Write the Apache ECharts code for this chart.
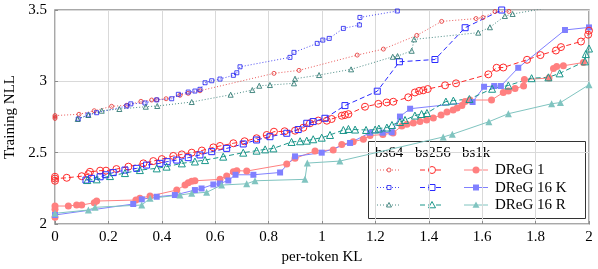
<!DOCTYPE html>
<html><head><meta charset="utf-8">
<script src="https://cdn.jsdelivr.net/npm/echarts@6/dist/echarts.min.js"></script>
<style>html,body{margin:0;padding:0;background:#fff}#c{width:598px;height:269px}</style>
</head><body><div id="c"></div>
<script>
// ---- categories ----
const methods = ['DReG 1', 'DReG 16 K', 'DReG 16 R'];
const batches = ['bs64', 'bs256', 'bs1k'];
const xAxisName = 'per-token KL';
const yAxisName = 'Training NLL';

// ---- series values [per-token KL, training NLL] ----
const dreg1_bs64 = [[0,2.74],[0,2.75],[0,2.76],[0.09,2.769],[0.147,2.794],[0.212,2.825],[0.269,2.832],[0.322,2.86],[0.362,2.869],[0.381,2.871],[0.416,2.878],[0.468,2.902],[0.499,2.916],[0.543,2.934],[0.82,3.056],[0.914,3.077],[1.132,3.184],[1.23,3.226],[1.355,3.322],[1.448,3.42],[1.577,3.44],[1.603,3.447],[1.648,3.489],[1.70,3.49]];
const dreg16k_bs64 = [[0.087,2.736],[0.124,2.764],[0.156,2.78],[0.269,2.827],[0.284,2.842],[0.337,2.848],[0.381,2.87],[0.437,2.878],[0.462,2.909],[0.499,2.925],[0.524,2.932],[0.543,2.944],[0.562,2.99],[0.587,3.004],[0.618,3.016],[0.668,3.042],[0.681,3.06],[0.693,3.102],[0.88,3.168],[0.895,3.203],[0.982,3.266],[1.003,3.289],[1.027,3.301],[1.08,3.371],[1.14,3.395],[1.142,3.448],[1.282,3.493]];
const dreg16r_bs64 = [[0.085,2.736],[0.125,2.764],[0.175,2.794],[0.241,2.806],[0.34,2.822],[0.383,2.827],[0.512,2.855],[0.658,2.906],[0.739,2.939],[0.765,2.969],[0.805,2.974],[0.895,2.986],[0.899,3.018],[0.989,3.044],[1.109,3.084],[1.265,3.172],[1.283,3.177],[1.336,3.214],[1.345,3.294],[1.585,3.341],[1.629,3.379],[1.685,3.458],[1.714,3.472],[1.86,3.52]];

const dreg1_bs256 = [[0,2.303],[0,2.318],[0,2.331],[0.044,2.324],[0.10,2.335],[0.125,2.35],[0.131,2.366],[0.169,2.374],[0.191,2.374],[0.23,2.385],[0.275,2.402],[0.331,2.425],[0.368,2.441],[0.40,2.455],[0.443,2.477],[0.475,2.488],[0.512,2.50],[0.55,2.515],[0.593,2.537],[0.618,2.547],[0.668,2.566],[0.71,2.58],[0.755,2.601],[0.793,2.624],[0.82,2.647],[0.86,2.65],[0.899,2.654],[0.93,2.675],[0.955,2.706],[0.986,2.725],[1.018,2.724],[1.036,2.736],[1.074,2.759],[1.086,2.764],[1.099,2.770],[1.161,2.822],[1.211,2.842],[1.242,2.852],[1.267,2.857],[1.323,2.888],[1.348,2.922],[1.364,2.933],[1.379,2.937],[1.396,2.946],[1.461,2.972],[1.502,2.986],[1.623,3.049],[1.654,3.095],[1.679,3.097],[1.768,3.151],[1.818,3.184],[1.876,3.216],[1.895,3.24],[1.97,3.279],[1.997,3.327],[2.0,3.355]];
const dreg16k_bs256 = [[0.116,2.308],[0.137,2.32],[0.169,2.331],[0.19,2.345],[0.218,2.36],[0.262,2.378],[0.306,2.39],[0.343,2.413],[0.393,2.425],[0.42,2.437],[0.456,2.448],[0.499,2.465],[0.543,2.484],[0.587,2.507],[0.643,2.53],[0.705,2.561],[0.755,2.589],[0.805,2.612],[0.868,2.636],[0.911,2.662],[0.943,2.706],[0.967,2.718],[1.011,2.741],[1.086,2.83],[1.207,2.931],[1.29,3.137],[1.423,3.153],[1.536,3.376],[1.673,3.50]];
const dreg16r_bs256 = [[0.121,2.308],[0.156,2.313],[0.206,2.336],[0.262,2.357],[0.318,2.378],[0.381,2.39],[0.418,2.402],[0.475,2.425],[0.524,2.438],[0.562,2.448],[0.63,2.472],[0.705,2.50],[0.755,2.514],[0.787,2.523],[0.818,2.53],[0.886,2.575],[0.918,2.58],[0.943,2.584],[0.967,2.594],[0.999,2.605],[1.03,2.624],[1.08,2.659],[1.099,2.666],[1.124,2.662],[1.165,2.659],[1.199,2.662],[1.213,2.669],[1.243,2.676],[1.262,2.694],[1.292,2.715],[1.311,2.729],[1.348,2.76],[1.373,2.771],[1.393,2.778],[1.464,2.858],[1.492,2.865],[1.552,2.876],[1.637,2.948],[1.698,2.971],[1.785,3.022],[1.848,3.028],[1.89,3.056],[1.985,3.14],[1.988,3.191],[2.0,3.23]];

const dreg1_bs1k = [[0,2.047],[0,2.103],[0,2.126],[0.05,2.126],[0.081,2.133],[0.1,2.133],[0.147,2.149],[0.156,2.161],[0.303,2.168],[0.318,2.18],[0.356,2.196],[0.456,2.238],[0.487,2.273],[0.499,2.289],[0.512,2.299],[0.524,2.303],[0.618,2.313],[0.643,2.336],[0.668,2.367],[0.681,2.374],[0.718,2.371],[0.868,2.42],[0.899,2.46],[0.974,2.512],[1.042,2.519],[1.074,2.557],[1.117,2.577],[1.155,2.594],[1.18,2.62],[1.228,2.627],[1.266,2.638],[1.299,2.687],[1.318,2.699],[1.342,2.708],[1.367,2.718],[1.392,2.729],[1.417,2.743],[1.446,2.764],[1.468,2.785],[1.491,2.799],[1.506,2.813],[1.524,2.83],[1.536,2.858],[1.554,2.869],[1.635,2.869],[1.679,2.922],[1.698,2.932],[1.723,2.95],[1.755,2.967],[1.758,3.013],[1.85,3.023],[1.867,3.09],[1.879,3.104],[1.904,3.109],[1.979,3.132]];
const dreg16k_bs1k = [[0,2.063],[0.293,2.14],[0.325,2.173],[0.381,2.191],[0.449,2.203],[0.524,2.238],[0.549,2.249],[0.593,2.277],[0.618,2.284],[0.649,2.305],[0.676,2.345],[0.743,2.345],[0.843,2.361],[0.899,2.474],[0.999,2.50],[1.105,2.568],[1.18,2.64],[1.227,2.64],[1.261,2.643],[1.292,2.753],[1.33,2.808],[1.564,2.855],[1.607,2.962],[1.645,2.967],[1.67,2.967],[1.735,3.095],[1.91,3.36],[2.0,3.378]];
const dreg16r_bs1k = [[0,2.075],[0.125,2.098],[0.15,2.117],[0.325,2.133],[0.356,2.18],[0.468,2.203],[0.512,2.215],[0.568,2.222],[0.624,2.273],[0.718,2.282],[0.749,2.303],[0.936,2.313],[0.945,2.427],[1.067,2.441],[1.454,2.61],[1.488,2.629],[1.625,2.717],[1.698,2.773],[1.86,2.843],[1.893,2.851],[2.0,2.976]];

// ---- axis ticks ----
const xMin = 0, xMax = 2, xStep = 0.2;
const yMin = 2, yMax = 3.5, yStep = 0.5;

// ---- styles (not data) ----
const methodColors = {
  bs64:  ['#e53030', '#1e1ef0', '#1e6e66'],
  bs256: ['#ff2a2a', '#2a2aff', '#1a968a'],
  bs1k:  ['#ff8080', '#8080ff', '#80c4c0']
};
const methodSymbols = ['circle', 'rect', 'triangle'];
const batchStyle = {
  bs64:  {dash: [1, 2], size: [4, 4, 5], hollow: true,  opacity: 0.8},
  bs256: {dash: [5, 3], size: [7, 6, 7], hollow: true,  opacity: 1},
  bs1k:  {dash: 'solid', size: [7, 6, 7], hollow: false, opacity: 1}
};
const seriesTable = {
  bs64:  [dreg1_bs64, dreg16k_bs64, dreg16r_bs64],
  bs256: [dreg1_bs256, dreg16k_bs256, dreg16r_bs256],
  bs1k:  [dreg1_bs1k, dreg16k_bs1k, dreg16r_bs1k]
};

const drawOrder = ['bs1k', 'bs256', 'bs64'];
const series = [];
drawOrder.forEach(b => {
  methods.forEach((m, i) => {
    const st = batchStyle[b];
    const c = methodColors[b][i];
    series.push({
      name: m + ' ' + b,
      type: 'line',
      data: seriesTable[b][i],
      symbol: methodSymbols[i],
      symbolSize: st.size[i],
      showAllSymbol: true,
      clip: true,
      silent: true,
      lineStyle: {color: c, width: 1, type: st.dash, opacity: st.opacity},
      itemStyle: st.hollow
        ? {color: 'rgba(255,255,255,0)', borderColor: c, borderWidth: 1, opacity: st.opacity}
        : {color: c, borderWidth: 0},
      emphasis: {disabled: true}
    });
  });
});

// ---- legend (table-like) via graphic ----
const font = '"Liberation Serif", "DejaVu Serif", serif';
const box = {x: 368, y: 141, w: 217, h: 77};
const colX = [389, 432, 476];
const rowY = [170, 187.5, 205];
const headX = [375, 415, 462];
const g = [];
g.push({type: 'rect', shape: {x: box.x + 0.5, y: box.y + 0.5, width: box.w, height: box.h},
  style: {fill: '#fff', stroke: '#333', lineWidth: 1}});
batches.forEach((b, j) => {
  g.push({type: 'text', x: headX[j], y: 153, style: {text: b, font: '15px ' + font, fill: '#000', textVerticalAlign: 'middle'}});
});
methods.forEach((m, i) => {
  g.push({type: 'text', x: 495, y: rowY[i] + 0.5, style: {text: m, font: '15px ' + font, fill: '#000', textVerticalAlign: 'middle'}});
  batches.forEach((b, j) => {
    const st = batchStyle[b];
    const c = methodColors[b][i];
    const cx = colX[j], cy = rowY[i];
    g.push({type: 'line', shape: {x1: cx - 12, y1: cy, x2: cx + 12, y2: cy},
      style: {stroke: c, lineWidth: 1, lineDash: st.dash === 'solid' ? null : st.dash, opacity: st.opacity}});
    const r = st.size[i] / 2;
    const fill = st.hollow ? '#fff' : c;
    const stroke = st.hollow ? c : null;
    let shp;
    if (methodSymbols[i] === 'circle') shp = {type: 'circle', shape: {cx: cx, cy: cy, r: r}};
    else if (methodSymbols[i] === 'rect') shp = {type: 'rect', shape: {x: cx - r, y: cy - r, width: 2 * r, height: 2 * r}};
    else shp = {type: 'polygon', shape: {points: [[cx, cy - r], [cx + r, cy + r * 0.8], [cx - r, cy + r * 0.8]]}};
    shp.style = {fill: fill, stroke: stroke, lineWidth: 1, opacity: st.opacity};
    g.push(shp);
  });
});

const chart = echarts.init(document.getElementById('c'), null, {renderer: 'canvas'});
chart.setOption({
  animation: false,
  backgroundColor: '#fff',
  grid: {left: 55, right: 9, top: 10, bottom: 45, containLabel: false, outerBoundsMode: 'none',
    show: true, borderColor: '#8c8c8c', borderWidth: 1.5, backgroundColor: 'transparent'},
  xAxis: {
    type: 'value', min: xMin, max: xMax, interval: xStep,
    name: xAxisName, nameLocation: 'middle', nameGap: 26,
    nameTextStyle: {fontFamily: font, fontSize: 15, color: '#000'},
    axisLine: {show: false},
    axisTick: {show: true, inside: true, length: 3, lineStyle: {color: '#8c8c8c'}},
    axisLabel: {fontFamily: font, fontSize: 15, color: '#000', margin: 6, hideOverlap: false},
    splitLine: {show: true, lineStyle: {color: '#d9d9d9', width: 1}}
  },
  yAxis: {
    type: 'value', min: yMin, max: yMax, interval: yStep,
    name: yAxisName, nameLocation: 'middle', nameGap: 31,
    nameTextStyle: {fontFamily: font, fontSize: 15, color: '#000'},
    axisLine: {show: false},
    axisTick: {show: true, inside: true, length: 3, lineStyle: {color: '#8c8c8c'}},
    axisLabel: {fontFamily: font, fontSize: 15, color: '#000', margin: 8, hideOverlap: false},
    splitLine: {show: true, lineStyle: {color: '#d9d9d9', width: 1}}
  },
  series: series,
  graphic: [{type: 'group', z: 100, children: g}]
});
</script>
</body></html>
